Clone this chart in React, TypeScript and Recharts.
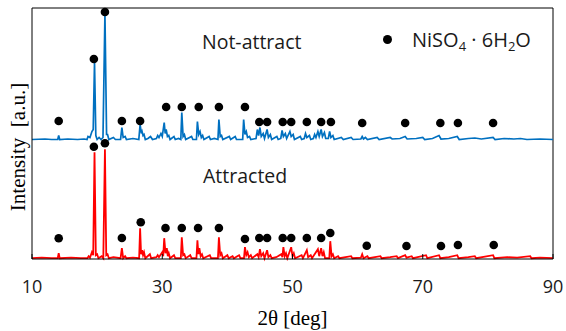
import React from 'react';
import { ComposedChart, Line, Scatter, XAxis, YAxis, Label, ReferenceLine } from 'recharts';

const X_TICKS = [10, 30, 50, 70, 90];
const SERIES_NAMES = ['Not-attract', 'Attracted'];
const NOT_ATTRACT_OFFSET = 119.5;
const ATTRACTED_OFFSET = 0.8;

// [2θ (deg), intensity above own baseline (a.u.)]
const NOT_ATTRACT_PATTERN: [number, number][] = [
  [10,0],[12,0.5],[13,0],[13.95,0],[14.1,4],[14.25,0],[15.5,0.5],[17,0],[18,0.5],[18.45,0],[18.6,3],[18.9,2],[19.2,8],[19.4,10],[19.6,77],[19.8,4],[20.0,0],[20.3,2],[20.6,0],[20.9,2],[21.2,126],[21.45,5],[21.6,5],[21.8,0],[22.5,2],[22.8,0],[23.6,0],[23.8,12],[24.0,2],[24.3,3],[24.5,0],[25.5,1],[26.4,0],[26.6,15],[26.8,6],[26.9,8],[27.05,4],[27.2,5],[27.4,0],[27.8,1],[28.2,3],[28.5,0],[29.1,1],[29.3,4],[29.5,2],[29.8,6],[30.0,3],[30.3,17],[30.45,6],[30.6,10],[30.8,3],[31.0,4],[31.2,0],[31.8,3],[32.0,0],[32.5,1],[32.85,0],[33.0,27],[33.2,3],[33.4,5],[33.6,0],[34.5,3],[34.7,0],[35.25,0],[35.4,18],[35.6,5],[35.8,8],[36.0,2],[36.2,4],[36.4,0],[37.2,3],[37.4,0],[38.0,1],[38.55,0],[38.7,20],[38.9,3],[39.1,4],[39.3,0],[40.3,3],[40.5,0],[41.2,3],[41.4,0],[42.35,0],[42.5,20],[42.7,5],[42.9,8],[43.1,2],[43.4,3],[43.6,0],[44.4,1],[44.6,10],[44.8,4],[45.0,12],[45.2,3],[45.5,6],[45.7,1],[46.1,10],[46.3,2],[46.6,5],[46.8,0],[47.6,3],[47.8,0],[48.2,1],[48.4,9],[48.6,3],[48.9,6],[49.1,1],[49.6,8],[49.8,3],[50.1,5],[50.3,0],[51.2,3],[51.4,0],[51.8,1],[52.0,6],[52.2,2],[52.6,4],[52.8,0],[53.2,1],[53.4,5],[53.6,2],[53.9,8],[54.1,3],[54.4,10],[54.6,3],[54.9,7],[55.1,1],[55.5,1],[55.7,8],[55.9,2],[56.2,4],[56.4,0],[57.5,2],[57.8,0],[59.0,2],[59.3,0],[60.5,0.5],[60.7,3],[60.9,0.5],[61.2,2],[61.5,0],[63.0,2],[63.3,0],[65.0,2],[65.3,0.5],[66.5,1],[67.3,3],[67.6,0.5],[69,1],[70.0,2],[70.3,0],[71.5,1],[72.5,4],[72.8,0.5],[74,1],[75.3,3],[75.6,0],[77,1],[78,1.5],[79,0.5],[80.8,2],[81.1,0],[82.5,1],[84,0.5],[85,1],[86,0],[88,0.5],[90,0]
];

const ATTRACTED_PATTERN: [number, number][] = [
  [10,0],[11.5,0.5],[13,0],[13.95,0],[14.1,5],[14.25,0],[16,0.5],[17.5,0],[18.5,0],[18.7,2],[18.9,0.5],[19.2,6],[19.4,3],[19.6,106],[19.8,3],[20.0,4],[20.2,0],[20.7,2],[20.95,0],[21.2,109],[21.4,3],[21.6,4],[21.8,0],[22.5,1],[23.6,0],[23.8,10],[24.0,0],[24.3,2],[24.5,0],[25.5,0.5],[26.45,0],[26.6,30],[26.75,4],[26.9,8],[27.05,3],[27.2,6],[27.4,0],[28.1,4],[28.3,0],[29.1,1],[29.3,3],[29.5,1],[30.0,6],[30.15,2],[30.3,20],[30.5,5],[30.7,10],[30.85,2],[31.0,5],[31.2,0],[31.8,3],[32.0,0],[32.85,0],[33.0,21],[33.2,3],[33.4,4],[33.6,0],[34.3,3],[34.5,0],[35.25,0],[35.4,18],[35.55,4],[35.7,10],[35.9,2],[36.1,4],[36.3,0],[37.3,3],[37.5,0],[38.55,0],[38.7,21],[38.9,3],[39.1,5],[39.3,0],[40.0,3],[40.2,0],[40.8,2],[41.0,0],[41.8,3],[42.0,0],[42.55,0],[42.7,11],[42.9,3],[43.1,6],[43.3,1],[43.6,3],[43.8,0],[44.6,4],[44.8,1],[45.0,9],[45.2,2],[45.5,5],[45.7,0],[46.1,8],[46.3,1],[46.6,3],[46.8,0],[47.5,1],[48.3,4],[48.45,1],[48.6,11],[48.8,2],[49.0,5],[49.2,0],[49.8,11],[50.0,2],[50.2,5],[50.4,0],[51.4,3],[51.6,0],[52.2,8],[52.4,1],[52.8,3],[53.0,0],[53.9,9],[54.1,2],[54.4,10],[54.6,2],[54.8,6],[55.0,0],[55.65,0],[55.8,17],[56.0,2],[56.2,4],[56.4,0],[57.0,2],[57.2,0],[59.0,2],[59.2,0],[60.5,0.5],[60.7,4],[60.9,0],[61.5,2],[61.7,0],[63.5,2],[63.7,0],[65,1],[66.0,2],[66.2,0],[67.3,3],[67.5,0.5],[68.3,2],[68.5,0],[70.5,3],[70.7,0],[72.5,3],[72.7,0],[74,1],[75.3,3],[75.5,0],[77,1],[78,2],[78.2,0],[80.8,3],[81.0,0],[83.0,1],[84.5,0.5],[86.5,2],[86.7,0],[88,0.5],[90,0]
];

// NiSO4·6H2O peak markers: [2θ, marker height (a.u.)]
const NOT_ATTRACT_MARKS: [number, number][] = [
  [14.1,138],[19.5,200],[21.2,247],[23.8,138],[26.6,138],[30.6,152],[33.0,152],[35.6,152],[38.7,152],[42.7,152],[44.9,137],[46.1,137],[48.5,137],[49.8,137],[52.2,137],[54.4,137],[55.9,137],[60.7,136],[67.3,136],[72.7,136],[75.4,136],[80.8,136]
];
const ATTRACTED_MARKS: [number, number][] = [
  [14.1,20.7],[19.5,112.3],[21.2,115.7],[23.8,21],[26.7,36.7],[30.5,31],[33.0,31],[35.5,31],[38.7,31],[42.7,20],[44.9,21],[46.1,21],[48.5,21],[49.8,21],[52.2,21],[54.4,21],[55.8,26],[61.4,13.3],[67.5,13],[72.8,13],[75.4,14],[80.9,14]
];

const Y_DOMAIN: [number, number] = [0, 251];
const X_DOMAIN: [number, number] = [10, 90];

const toRows = (pts: [number, number][], off: number) => pts.map(([t, v]) => ({ t, v: v + off }));
const marksRows = (pts: [number, number][]) => pts.map(([t, v]) => ({ t, v }));

const notAttractRows = toRows(NOT_ATTRACT_PATTERN, NOT_ATTRACT_OFFSET);
const attractedRows = toRows(ATTRACTED_PATTERN, ATTRACTED_OFFSET);
const markRows = [...marksRows(NOT_ATTRACT_MARKS), ...marksRows(ATTRACTED_MARKS)];

const Dot = (p: any) => <circle cx={p.cx} cy={p.cy} r={4.3} fill="#000" />;

const sans = '"Open Sans", "Liberation Sans", sans-serif';
const serif = '"Liberation Serif", "Times New Roman", serif';

export default function App() {
  return (
    <div style={{ position: 'absolute', left: 0, top: 0, width: 566, height: 331, background: '#fff' }}>
      <ComposedChart width={566} height={331} margin={{ top: 8, right: 13, bottom: 0, left: 0 }}>
        <XAxis
          dataKey="t"
          type="number"
          domain={X_DOMAIN}
          ticks={X_TICKS}
          allowDataOverflow
          height={72}
          stroke="#000"
          tickSize={-5}
          tickMargin={26}
          tick={{ fill: '#1a1a1a', fontSize: 18, fontFamily: sans }}
        >
          <Label value="2θ [deg]" position="insideBottom" offset={6} style={{ fill: '#000', fontSize: 21, fontFamily: serif }} />
        </XAxis>
        <YAxis
          type="number"
          domain={Y_DOMAIN}
          width={32}
          tick={false}
          tickLine={false}
          stroke="#000"
        >
          <Label
            content={() => (
              <text x={18} y={147} transform="rotate(-90 18 147)" textAnchor="middle" dominantBaseline="central" fill="#000" fontSize={21} fontFamily={serif} style={{ whiteSpace: 'pre' }}>
                {'Intensity  [a.u.]'}
              </text>
            )}
          />
        </YAxis>
        <ReferenceLine y={Y_DOMAIN[1]} stroke="#000" strokeWidth={1} ifOverflow="visible" />
        <ReferenceLine x={X_DOMAIN[1]} stroke="#000" strokeWidth={1} ifOverflow="visible" />
        <Line data={attractedRows} dataKey="v" name={SERIES_NAMES[1]} stroke="#FF0000" strokeWidth={1.8} dot={false} isAnimationActive={false} type="linear" />
        <Line data={notAttractRows} dataKey="v" name={SERIES_NAMES[0]} stroke="#0070C0" strokeWidth={1.7} dot={false} isAnimationActive={false} type="linear" />
        <Scatter data={markRows} dataKey="v" shape={Dot} isAnimationActive={false} />
      </ComposedChart>
      <div style={{ position: 'absolute', left: 202, top: 29, fontFamily: sans, fontSize: 19.5, color: '#1a1a1a', lineHeight: '26px' }}>{SERIES_NAMES[0]}</div>
      <div style={{ position: 'absolute', left: 203, top: 163, fontFamily: sans, fontSize: 19.5, color: '#1a1a1a', lineHeight: '26px' }}>{SERIES_NAMES[1]}</div>
      <div style={{ position: 'absolute', left: 383, top: 35, width: 9, height: 9, borderRadius: '50%', background: '#000' }} />
      <div style={{ position: 'absolute', left: 412, top: 27, fontFamily: sans, fontSize: 20, color: '#1a1a1a', lineHeight: '26px', whiteSpace: 'nowrap' }}>
        NiSO<sub style={{ fontSize: 13, verticalAlign: '-4px' }}>4</sub> · 6H<sub style={{ fontSize: 13, verticalAlign: '-4px' }}>2</sub>O
      </div>
    </div>
  );
}
